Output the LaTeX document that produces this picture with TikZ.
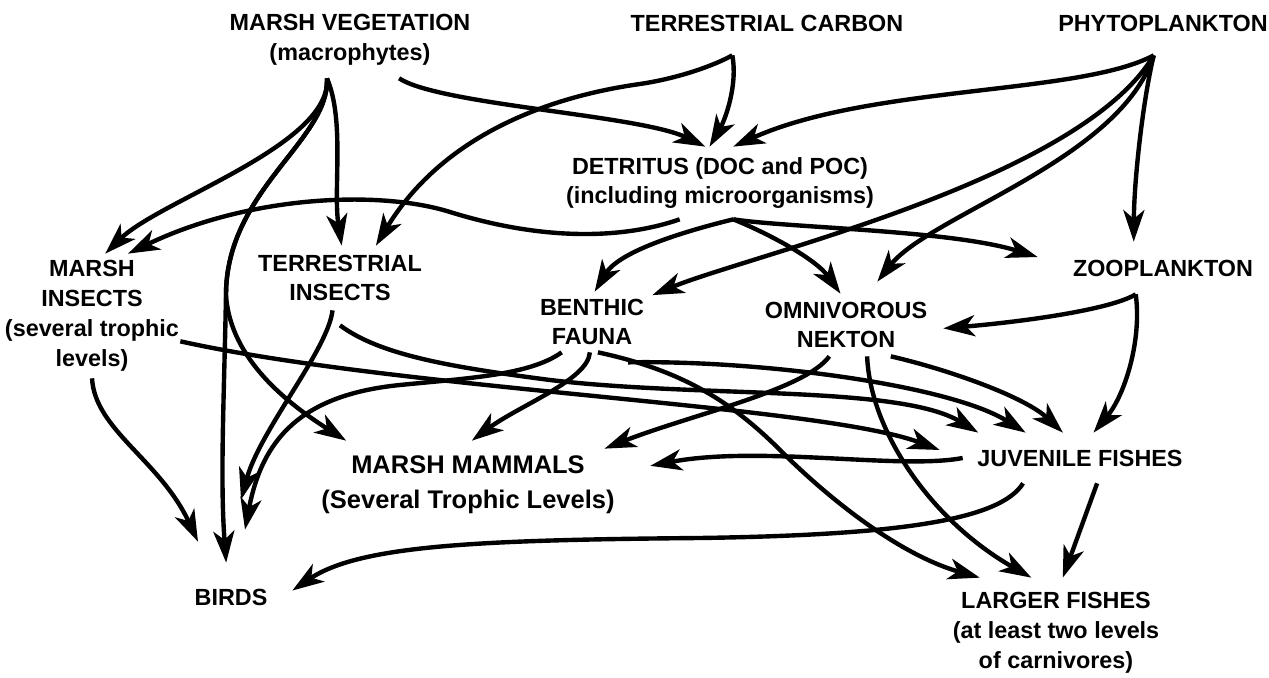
\documentclass[tikz,border=0pt]{standalone}
\usepackage{fontspec}
\setmainfont{Liberation Sans}
\usetikzlibrary{arrows.meta}
\tikzset{
  taxon/.style={align=center, inner sep=0pt, font=\fontsize{13.3}{17}\selectfont\bfseries},
  flow/.style={-{Stealth[length=18pt, width=12pt, inset=5pt]}, line width=2.5pt},
}
\begin{document}
\begin{tikzpicture}[x=0.02cm, y=-0.02cm]
  \path[use as bounding box, fill=white] (0,0) rectangle (1269,678);
  \foreach \n/\x/\y/\w/\h/\txt in {
    mv/350/40/5.0cm/1.52cm/{MARSH VEGETATION\\(macrophytes)},
    tc/767/23/5.6cm/1.28cm/{TERRESTRIAL CARBON},
    phy/1163/23/4.2cm/1.28cm/{PHYTOPLANKTON},
    det/720/183/6.2cm/1.44cm/{DETRITUS (DOC and POC)\\(including microorganisms)},
    mi/92/316/3.52cm/2.48cm/{MARSH\\INSECTS\\(several trophic\\levels)},
    ti/340/278/3.28cm/1.28cm/{TERRESTRIAL\\INSECTS},
    bf/592/322/2.4cm/1.2cm/{BENTHIC\\FAUNA},
    on/846/325/3.88cm/1.24cm/{OMNIVOROUS\\NEKTON},
    zoo/1163/268/5.0cm/1.04cm/{ZOOPLANKTON},
    jf/1080/458/4.68cm/1.0cm/{JUVENILE FISHES},
    birds/231/597/2.44cm/1.36cm/{BIRDS},
    lf/1056/633/0cm/2.2cm/{LARGER FISHES\\(at least two levels\\of carnivores)}}
    \node[taxon, minimum width=\w, minimum height=\h] (\n) at (\x,\y) {\txt};
  \node[taxon, font=\fontsize{14.5}{20}\selectfont\bfseries, minimum width=7.28cm, minimum height=1.76cm] (mm) at (468,485) {MARSH MAMMALS\\(Several Trophic Levels)};

  \draw[flow] (mv.-121) .. controls (332,145) and (160,200) .. (mi.78);
  \draw[flow] (mv.-121) .. controls (345,120) and (333,190) .. (ti.87);
  \draw[flow] (mv.-121) .. controls (330,140) and (226,190) .. (226,295) .. controls (224,400) and (220,480) .. (birds.98);
  \draw[flow] (mv.-121) .. controls (330,140) and (226,190) .. (226,295) .. controls (230,360) and (290,405) .. (mm.160);
  \draw[flow] (mv.-38) .. controls (440,105) and (640,115) .. (det.112);
  \draw[flow] (tc.-137) .. controls (738,85) and (725,120) .. (det.106);
  \draw[flow] (tc.-137) .. controls (715,65) and (680,78) .. (640,84) .. controls (540,98) and (440,140) .. (ti.42);
  \draw[flow] (phy.-106) .. controls (1080,95) and (870,85) .. (det.70);
  \draw[flow] (phy.-106) .. controls (1080,180) and (750,255) .. (bf.24);
  \draw[flow] (phy.-106) .. controls (1120,160) and (930,215) .. ([shift={(0,-12)}]on.45);
  \draw[flow] (phy.-106) .. controls (1143,100) and (1134,180) .. (zoo.138);
  \draw[flow] (det.-138) .. controls (620,240) and (540,240) .. (450,212) .. controls (380,190) and (250,195) .. (mi.60);
  \draw[flow] (det.-70) .. controls (690,230) and (620,250) .. (bf.85);
  \draw[flow] (det.-70) .. controls (765,232) and (815,258) .. (on.100);
  \draw[flow] (det.-70) .. controls (790,228) and (950,230) .. (zoo.175);
  \draw[flow] (zoo.-136) .. controls (1110,310) and (1020,322) .. (on.-2);
  \draw[flow] (zoo.-136) .. controls (1142,340) and (1125,395) .. (jf.62);
  \draw[flow] (mi.south) .. controls (95,430) and (160,460) .. ([shift={(-33,-21)}]birds.north);
  \draw[flow] (mi.-16) .. controls (400,390) and (820,405) .. ([shift={(-23,-8)}]jf.west);
  \draw[flow] (ti.-103) .. controls (328,350) and (260,430) .. ([shift={(10,-63)}]birds.north);
  \draw[flow] ([shift={(0,15)}]ti.south) .. controls (380,355) and (450,367) .. (550,380) .. controls (700,398) and (900,385) .. (jf.166);
  \draw[flow] (bf.-94) .. controls (588,380) and (520,405) .. (mm.85);
  \draw[flow] (bf.-135) .. controls (530,375) and (470,378) .. (400,385) .. controls (300,395) and (262,440) .. ([shift={(14,-33)}]birds.north);
  \draw[flow] (bf.-79) .. controls (680,370) and (730,400) .. (780,450) .. controls (830,500) and (900,555) .. (lf.144);
  \draw[flow] ([shift={(0,10)}]bf.-40) .. controls (760,360) and (950,385) .. (jf.155);
  \draw[flow] (on.-118) .. controls (805,390) and (690,415) .. ([shift={(0,8)}]mm.18);
  \draw[flow] (on.-56) .. controls (870,430) and (930,520) .. (lf.114);
  \draw[flow] (on.-35) .. controls (950,370) and (1025,397) .. (jf.124);
  \draw[flow] (jf.west) .. controls (900,470) and (760,445) .. (mm.6);
  \draw[flow] (jf.-156) .. controls (1000,520) and (900,535) .. (700,538) .. controls (480,540) and (360,545) .. (birds.6);
  \draw[flow] (jf.-56) -- (lf.83);
\end{tikzpicture}
\end{document}
